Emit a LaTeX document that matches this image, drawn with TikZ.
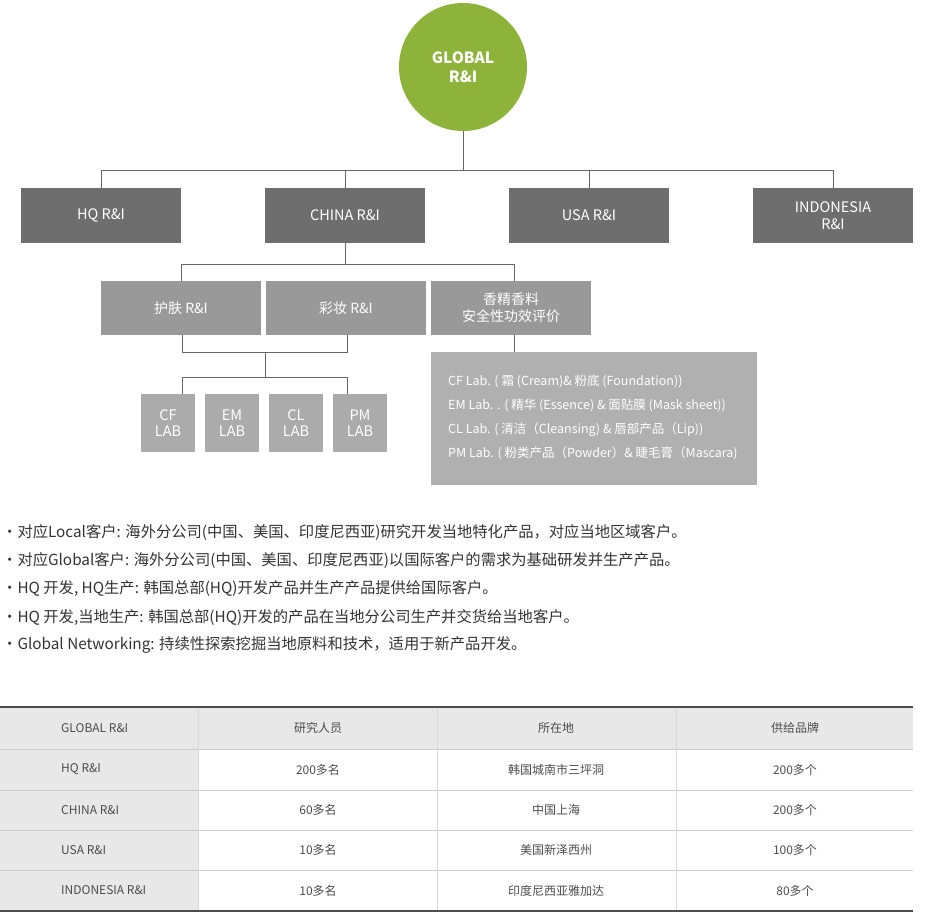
\documentclass[tikz,border=0pt]{standalone}
\usepackage{fontspec}
\setmainfont{Noto Sans CJK SC}
\begin{document}
\begin{tikzpicture}[x=1pt,y=-1pt,
 line/.style={draw=gray!80!black,line width=0.8pt},
 bA/.style={fill=black!57,draw=none,text=white,font=\fontsize{14.5}{17}\selectfont,align=center,inner sep=0},
 bB/.style={fill=black!40,draw=none,text=white,font=\fontsize{14}{17}\selectfont,align=center,inner sep=0},
 bC/.style={fill=black!33,draw=none,text=white,font=\fontsize{14.5}{16}\selectfont,align=center,inner sep=0},
 bul/.style={anchor=west,text=black!80,font=\fontsize{15.3}{17}\selectfont,inner sep=0},
 tc/.style={text=black!70,font=\fontsize{12}{14}\selectfont,inner sep=0}]
\useasboundingbox (0,0) rectangle (932,923);
\node[circle,fill={rgb,255:red,141;green,179;blue,58},minimum size=128,text=white,font=\bfseries\fontsize{15.5}{19}\selectfont,align=center,inner sep=0] (g) at (463,67) {GLOBAL\\R\&I};
\node[bA,minimum width=160,minimum height=55] (hq) at (101,215.5) {HQ R\&I};
\node[bA,minimum width=160,minimum height=55] (cn) at (345,215.5) {CHINA R\&I};
\node[bA,minimum width=160,minimum height=55] (us) at (589,215.5) {USA R\&I};
\node[bA,minimum width=160,minimum height=55] (id) at (833,215.5) {INDONESIA\\R\&I};
\coordinate (j1) at (463,170);
\draw[line] (g.south) -- (j1);
\draw[line] (hq.north) -- (101,170) -- (833,170) -- (id.north);
\draw[line] (cn.north) -- (345,170); \draw[line] (us.north) -- (589,170);
\node[bB,minimum width=160,minimum height=54] (sk) at (181,308) {护肤 R\&I};
\node[bB,minimum width=160,minimum height=54] (mk) at (346,308) {彩妆 R\&I};
\node[bB,minimum width=160,minimum height=54] (fr) at (511,308) {香精香料\\安全性功效评价};
\draw[line] (cn.south) -- (345,264);
\draw[line] (181,281) -- (181,264) -- (514,264) -- (514,281);
\node[bC,minimum width=54,minimum height=58] (cf) at (168,423) {CF\\LAB};
\node[bC,minimum width=54,minimum height=58] (em) at (232,423) {EM\\LAB};
\node[bC,minimum width=54,minimum height=58] (cl) at (296,423) {CL\\LAB};
\node[bC,minimum width=54,minimum height=58] (pm) at (360,423) {PM\\LAB};
\draw[line] (182,335) -- (182,352) -- (347,352) -- (347,335);
\draw[line] (265,352) -- (265,377);
\draw[line] (182,394) -- (182,377) -- (347,377) -- (347,394);
\node[fill=black!31,minimum width=326,minimum height=133,inner sep=0] (lb) at (594,418.5) {};
\draw[line] (514,335) -- (lb.north -| 514,0);
\node[anchor=north west,text=white,font=\fontsize{12.5}{24}\selectfont,align=left,inner sep=0] (lt) at (448,375) {CF Lab. ( 霜 (Cream)\& 粉底 (Foundation))\\EM Lab. . ( 精华 (Essence) \& 面贴膜 (Mask sheet))\\CL Lab. ( 清洁（Cleansing) \& 唇部产品（Lip))\\PM Lab. ( 粉类产品（Powder）\& 睫毛膏（Mascara)};
\node[bul] (t1) at (2,533) {・对应Local客户: 海外分公司(中国、美国、印度尼西亚)研究开发当地特化产品，对应当地区域客户。};
\node[bul] (t2) at (2,561) {・对应Global客户: 海外分公司(中国、美国、印度尼西亚)以国际客户的需求为基础研发并生产产品。};
\node[bul] (t3) at (2,589) {・HQ 开发, HQ生产: 韩国总部(HQ)开发产品并生产产品提供给国际客户。};
\node[bul] (t4) at (2,617) {・HQ 开发,当地生产: 韩国总部(HQ)开发的产品在当地分公司生产并交货给当地客户。};
\node[bul] (t5) at (2,645) {・Global Networking: 持续性探索挖掘当地原料和技术，适用于新产品开发。};
% table
\fill[black!9] (0,707) rectangle (913,749);
\fill[black!9] (0,749) rectangle (198,911);
\foreach \y in {749,790,830,870} \draw[black!20,line width=0.6pt] (0,\y) -- (913,\y);
\foreach \x in {198,437,676} \draw[black!15,line width=0.6pt] (\x,707) -- (\x,911);
\draw[black!70,line width=1.5pt] (0,707) -- (913,707);
\draw[black!70,line width=1.5pt] (0,911) -- (913,911);
\node[tc,anchor=west] (h1) at (61,728) {GLOBAL R\&I};
\node[tc] (h2) at (318,728) {研究人员};
\node[tc] (h3) at (556,728) {所在地};
\node[tc] (h4) at (795,728) {供给品牌};
\node[tc,anchor=west] (r1) at (61,769.5) {HQ R\&I};
\node[tc] (r1b) at (318,769.5) {200多名};
\node[tc] (r1c) at (556,769.5) {韩国城南市三坪洞};
\node[tc] (r1d) at (795,769.5) {200多个};
\node[tc,anchor=west] (r2) at (61,810) {CHINA R\&I};
\node[tc] (r2b) at (318,810) {60多名};
\node[tc] (r2c) at (556,810) {中国上海};
\node[tc] (r2d) at (795,810) {200多个};
\node[tc,anchor=west] (r3) at (61,850) {USA R\&I};
\node[tc] (r3b) at (318,850) {10多名};
\node[tc] (r3c) at (556,850) {美国新泽西州};
\node[tc] (r3d) at (795,850) {100多个};
\node[tc,anchor=west] (r4) at (61,890.5) {INDONESIA R\&I};
\node[tc] (r4b) at (318,890.5) {10多名};
\node[tc] (r4c) at (556,890.5) {印度尼西亚雅加达};
\node[tc] (r4d) at (795,890.5) {80多个};
\end{tikzpicture}
\end{document}
